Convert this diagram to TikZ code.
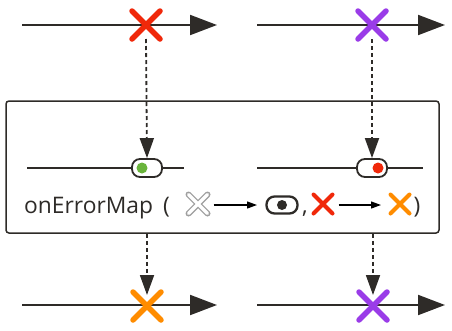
\documentclass[tikz,border=0pt]{standalone}
\usepackage{fontspec}
\setmainfont{Open Sans}
\usetikzlibrary{arrows.meta,shapes.misc,positioning}
\definecolor{linegray}{HTML}{2E2B28}
\definecolor{errred}{HTML}{F0280A}
\definecolor{errpurple}{HTML}{9A3CE8}
\definecolor{errorange}{HTML}{FF8C00}
\definecolor{okgreen}{HTML}{6AB43C}
\begin{document}
\begin{tikzpicture}[x=1pt, y=-1pt]
    % Styles
    \tikzstyle{timeline} = [line width=2pt, draw=linegray,
        -{Triangle[length=27pt,width=20pt]}]
    \tikzstyle{innerline} = [line width=1.8pt, draw=linegray]
    \tikzstyle{errmark} = [cross out, draw, line width=5.5pt, line cap=round,
        minimum size=28pt, inner sep=0pt, outer sep=0pt]
    \tikzstyle{smallmark} = [cross out, draw, line width=4pt, line cap=round,
        minimum size=19pt, inner sep=0pt, outer sep=0pt]
    \tikzstyle{pill} = [rectangle, draw=linegray, fill=white, line width=1.8pt,
        rounded corners=8pt, minimum width=30pt, minimum height=18pt, inner sep=0pt]
    \tikzstyle{droparrow} = [line width=1.8pt, draw=linegray, dash pattern=on 4pt off 3pt,
        -{Triangle[length=20pt,width=14pt]}]
    \tikzstyle{smallarrow} = [line width=1.2pt, draw=black,
        -{Triangle[length=10pt,width=7pt]}]
    \tikzstyle{optext} = [font=\fontsize{22.8}{27}\selectfont, text=linegray, inner sep=0pt]

    \useasboundingbox (0,0) rectangle (452,330);

    % === TOP: source timelines ===
    \coordinate (srcLstart) at (22,25);
    \coordinate (srcLend) at (217,25);
    \coordinate (srcRstart) at (257,25);
    \coordinate (srcRend) at (445,25);
    \draw [timeline] (srcLstart) -- (srcLend);
    \draw [timeline] (srcRstart) -- (srcRend);
    \node [errmark, draw=errred] (srcred) at (146,25) {};
    \node [errmark, draw=errpurple] (srcpurple) at (372,25) {};

    % === OPERATOR BOX ===
    \node [draw=linegray, rounded corners=3pt, line width=1.5pt,
        minimum width=433pt, minimum height=132pt] (opbox) at (222.5,167) {};

    % inner timelines
    \coordinate (inLstart) at (27,168);
    \coordinate (inLend) at (184,168);
    \coordinate (inRstart) at (257,168);
    \coordinate (inRend) at (423,168);
    \draw [innerline] (inLstart) -- (inLend);
    \draw [innerline] (inRstart) -- (inRend);
    \node [pill] (lpill) at (147,168) {};
    \node [pill] (rpill) at (372,168) {};
    \fill [okgreen] (142,168) circle (5.5pt);
    \fill [errred] (378,168) circle (5.5pt);

    % label row
    \node [optext, anchor=base west] (opname) at (24,213) {onErrorMap};
    \node [optext, anchor=base west] (openparen) at (163,213) {(};
    \node [smallmark, draw=gray!75, line width=6pt] (anyerr) at (198,204) {};
    \node [smallmark, draw=white, line width=3.4pt] (anyerrin) at (198,204) {};
    \node [pill, line width=2.3pt, rounded corners=8pt, minimum width=31pt, minimum height=17pt] (eye) at (282,205) {};
    \fill [linegray] (eye.center) circle (5pt);
    \node [optext, anchor=base] (comma) at (305,213) {,};
    \node [smallmark, draw=errred] (fromerr) at (323,204) {};
    \node [smallmark, draw=errorange] (toerr) at (400,204) {};
    \node [optext, anchor=base] (closeparen) at (417,213) {)};
    \draw [smallarrow] (anyerr.east) ++(6,1) coordinate (a1) -- (257,205);
    \draw [smallarrow] (fromerr.east) ++(6,1) coordinate (a2) -- (381,205);

    % === BOTTOM: result timelines ===
    \coordinate (resLstart) at (22,305);
    \coordinate (resLend) at (217,305);
    \coordinate (resRstart) at (257,305);
    \coordinate (resRend) at (445,305);
    \draw [timeline] (resLstart) -- (resLend);
    \draw [timeline] (resRstart) -- (resRend);
    \node [errmark, draw=errorange] (resorange) at (147,306) {};
    \node [errmark, draw=errpurple] (respurple) at (373,306) {};

    % === ARROWS: drops ===
    \draw [droparrow] (srcred.south) -- (lpill.north);
    \draw [droparrow] (srcpurple.south) -- (rpill.north);
    \draw [droparrow, shorten >=-3pt] (opbox.south -| resorange) -- (resorange.north);
    \draw [droparrow, shorten >=-3pt] (opbox.south -| respurple) -- (respurple.north);
\end{tikzpicture}
\end{document}
